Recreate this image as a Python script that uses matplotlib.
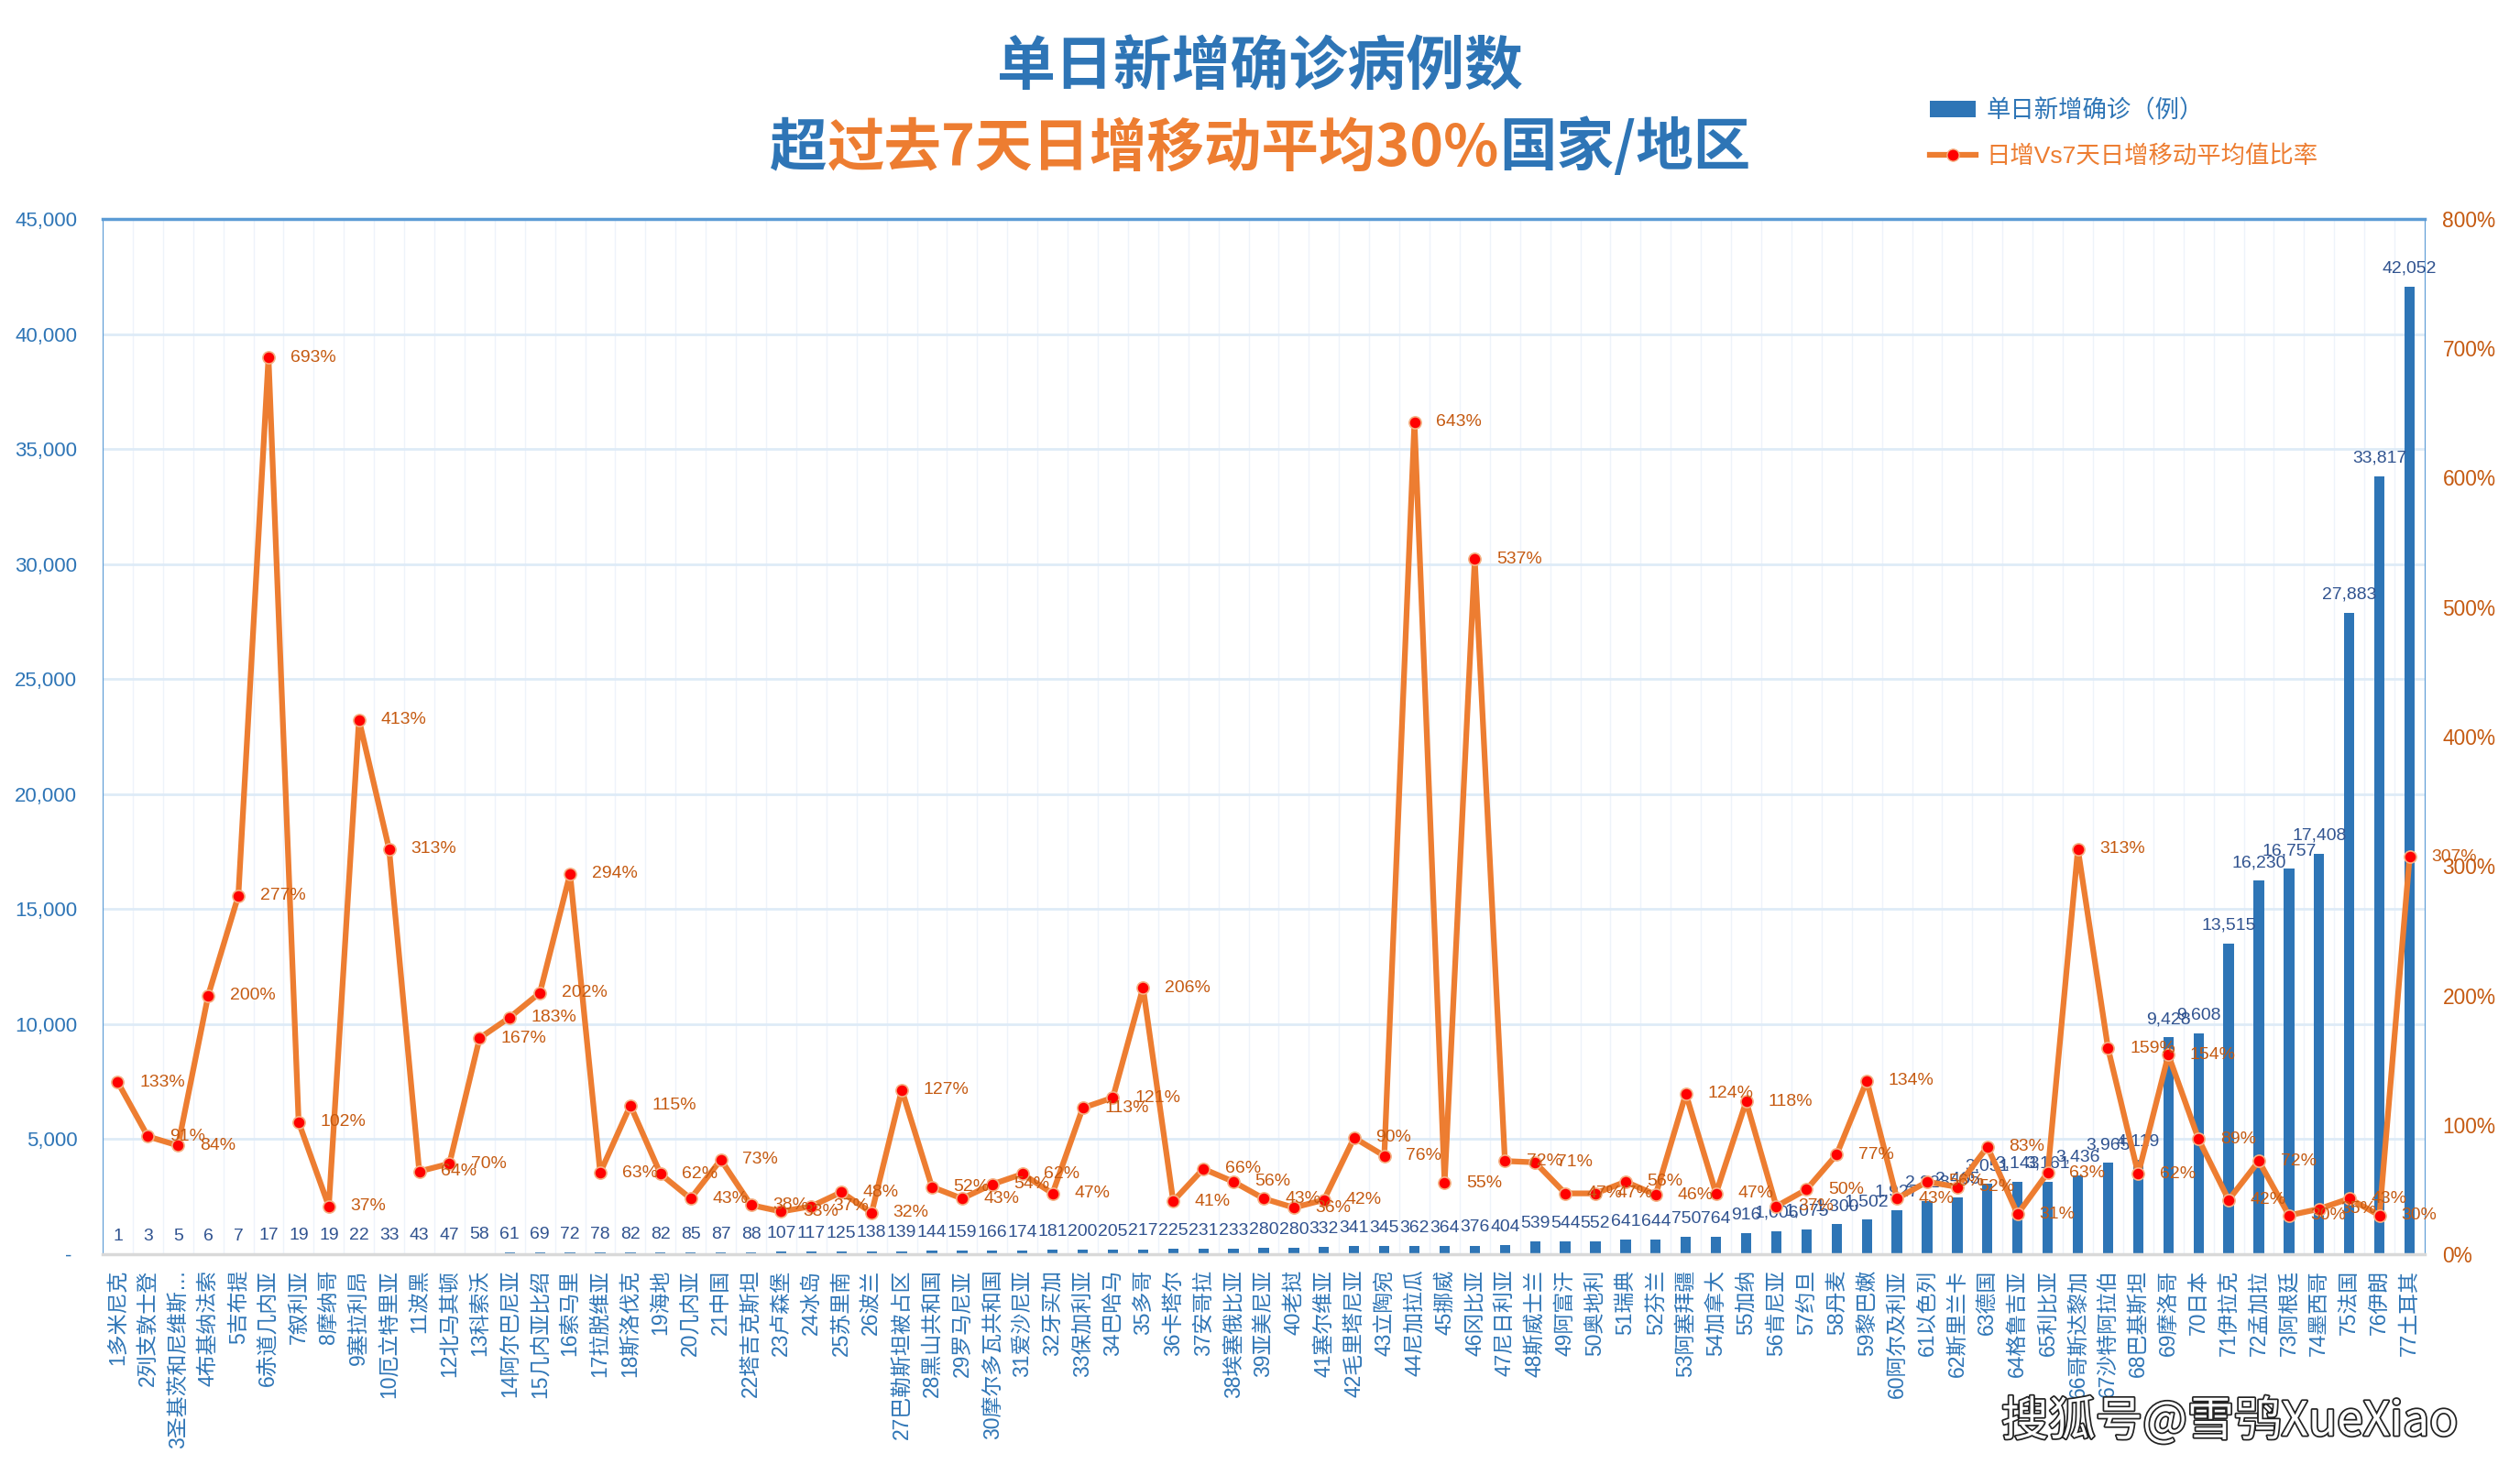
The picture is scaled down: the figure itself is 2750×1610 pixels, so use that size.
import numpy as np
import matplotlib
matplotlib.use('Agg')
import matplotlib.pyplot as plt
import matplotlib.patheffects as pe
from matplotlib import font_manager
from matplotlib.patches import Patch
from matplotlib.lines import Line2D
from matplotlib.offsetbox import TextArea, HPacker, AnnotationBbox

# data
countries = ['多米尼克', '列支敦士登', '圣基茨和尼维斯…', '布基纳法索', '吉布提', '赤道几内亚',
             '叙利亚', '摩纳哥', '塞拉利昂', '厄立特里亚', '波黑', '北马其顿', '科索沃', '阿尔巴尼亚',
             '几内亚比绍', '索马里', '拉脱维亚', '斯洛伐克', '海地', '几内亚', '中国', '塔吉克斯坦',
             '卢森堡', '冰岛', '苏里南', '波兰', '巴勒斯坦被占区', '黑山共和国', '罗马尼亚',
             '摩尔多瓦共和国', '爱沙尼亚', '牙买加', '保加利亚', '巴哈马', '多哥', '卡塔尔', '安哥拉',
             '埃塞俄比亚', '亚美尼亚', '老挝', '塞尔维亚', '毛里塔尼亚', '立陶宛', '尼加拉瓜', '挪威',
             '冈比亚', '尼日利亚', '斯威士兰', '阿富汗', '奥地利', '瑞典', '芬兰', '阿塞拜疆', '加拿大',
             '加纳', '肯尼亚', '约旦', '丹麦', '黎巴嫩', '阿尔及利亚', '以色列', '斯里兰卡', '德国',
             '格鲁吉亚', '利比亚', '哥斯达黎加', '沙特阿拉伯', '巴基斯坦', '摩洛哥', '日本', '伊拉克',
             '孟加拉', '阿根廷', '墨西哥', '法国', '伊朗', '土耳其']

new_cases = [1, 3, 5, 6, 7, 17, 19, 19, 22, 33, 43, 47, 58, 61, 69, 72, 78, 82, 82, 85,
             87, 88, 107, 117, 125, 138, 139, 144, 159, 166, 174, 181, 200, 205, 217, 225,
             231, 233, 280, 280, 332, 341, 345, 362, 364, 376, 404, 539, 544, 552, 641, 644,
             750, 764, 916, 1006, 1075, 1300, 1502, 1927, 2328, 2465, 3051, 3143, 3161, 3436,
             3965, 4119, 9428, 9608, 13515, 16230, 16757, 17408, 27883, 33817, 42052]

ratio_pct = [133, 91, 84, 200, 277, 693, 102, 37, 413, 313, 64, 70, 167, 183, 202, 294,
             63, 115, 62, 43, 73, 38, 33, 37, 48, 32, 127, 52, 43, 54, 62, 47, 113, 121,
             206, 41, 66, 56, 43, 36, 42, 90, 76, 643, 55, 537, 72, 71, 47, 47, 56, 46,
             124, 47, 118, 37, 50, 77, 134, 43, 56, 52, 83, 31, 63, 313, 159, 62, 154, 89,
             42, 72, 30, 35, 43, 30, 307]

left_ticks = list(range(0, 45001, 5000))
right_ticks = list(range(0, 801, 100))

BLUE = '#2E75B6'
ORANGE = '#ED7D31'
BROWN = '#C55A11'
NAVY = '#2F528F'

# fonts: narrow latin font for numbers, CJK fallback
avail = {f.name for f in font_manager.fontManager.ttflist}
if 'Liberation Sans Narrow' in avail:
    num_font, k = 'Liberation Sans Narrow', 1.0
else:
    num_font, k = 'Liberation Sans', 0.82
plt.rcParams['font.family'] = [num_font, 'Noto Sans CJK SC', 'DejaVu Sans']
CJK = ['Noto Sans CJK SC', 'DejaVu Sans']

W, H = 2750, 1610
fig = plt.figure(figsize=(W / 100, H / 100), dpi=100)
ax = fig.add_axes([112 / W, 1 - 1369 / H, (2646 - 112) / W, (1369 - 239) / H])

x = np.arange(len(countries))
ax.bar(x, new_cases, width=0.34, color=BLUE, zorder=2)
ax.set_xlim(-0.5, len(countries) - 0.5)
ax.set_ylim(0, 45000)

# bar value labels
for i, v in enumerate(new_cases):
    ax.annotate(f'{v:,}', (i, v), xytext=(0, 8), textcoords='offset points',
                ha='center', va='bottom', color=NAVY, fontsize=17 * k, zorder=5)

# axes styling
ax.set_xticks(x)
ax.set_xticklabels([f'{i + 1}{n}' for i, n in enumerate(countries)], rotation=90)
ax.tick_params(axis='x', length=0, pad=12, labelsize=16.5, labelcolor=BLUE)
ax.set_xticks(np.arange(-0.5, len(countries), 1), minor=True)
ax.tick_params(axis='x', which='minor', length=0)
ax.xaxis.grid(True, which='minor', color='#EEF3FA', lw=1)
ax.yaxis.grid(True, color='#DEEBF7', lw=2)
ax.set_axisbelow(True)

ax.set_yticks(left_ticks)
ax.set_yticklabels(['- '] + [f'{v:,}' for v in left_ticks[1:]])
ax.tick_params(axis='y', length=0, pad=20, labelsize=19.5 * k, labelcolor=BLUE)

ax.spines['top'].set_color('#5B9BD5')
ax.spines['top'].set_linewidth(2.5)
ax.spines['left'].set_color('#5B9BD5')
ax.spines['right'].set_color('#5B9BD5')
ax.spines['bottom'].set_color('#D9D9D9')
ax.spines['bottom'].set_linewidth(2.5)

# ratio line on the secondary axis
ax2 = ax.twinx()
ax2.plot(x, ratio_pct, color=ORANGE, lw=4.5, marker='o', ms=9.5,
         mfc='#FF0000', mec='#F4B183', mew=1.2, zorder=3)
ax2.set_ylim(0, 800)
ax2.set_yticks(right_ticks)
ax2.set_yticklabels([f'{v}%' for v in right_ticks])
ax2.tick_params(axis='y', length=0, pad=14, labelsize=20 * k, labelcolor=BROWN)
for s in ax2.spines.values():
    s.set_visible(False)

for i, p in enumerate(ratio_pct):
    ax2.annotate(f'{p}%', (i, p), xytext=(17, 0), textcoords='offset points',
                 ha='left', va='center', color=BROWN, fontsize=17 * k, zorder=5)

# titles
fig.text(0.5, 1 - 74 / H, '单日新增确诊病例数', ha='center', va='center',
         fontsize=46, fontweight='bold', color=BLUE, family=CJK)
parts = [('超', BLUE), ('过去7天日增移动平均30%', ORANGE), ('国家/地区', BLUE)]
boxes = [TextArea(t, textprops=dict(color=c, fontsize=45, fontweight='bold', family=CJK))
         for t, c in parts]
pack = HPacker(children=boxes, align='baseline', pad=0, sep=0)
fig.add_artist(AnnotationBbox(pack, (0.5, 1 - 161 / H), xycoords='figure fraction',
                              frameon=False, box_alignment=(0.5, 0.5)))

# legend
handles = [Patch(facecolor=BLUE),
           Line2D([0], [0], color=ORANGE, lw=4.5, marker='o', ms=9.5, mfc='#FF0000', mec='#F4B183')]
fig.legend(handles, ['单日新增确诊（例）', '日增Vs7天日增移动平均值比率'],
           loc='upper left', bbox_to_anchor=(2082 / W, 1 - 84 / H), frameon=False,
           fontsize=19, labelcolor=[BLUE, ORANGE], handlelength=1.9, handletextpad=0.45,
           labelspacing=0.95)

# watermark
fig.text(2682 / W, 1 - 1552 / H, '搜狐号@雪鸮XueXiao', ha='right', va='center',
         fontsize=37, color='white', family=CJK,
         path_effects=[pe.withStroke(linewidth=2.5, foreground='#222222')])

fig.savefig('out.png', dpi=100, facecolor='white')
